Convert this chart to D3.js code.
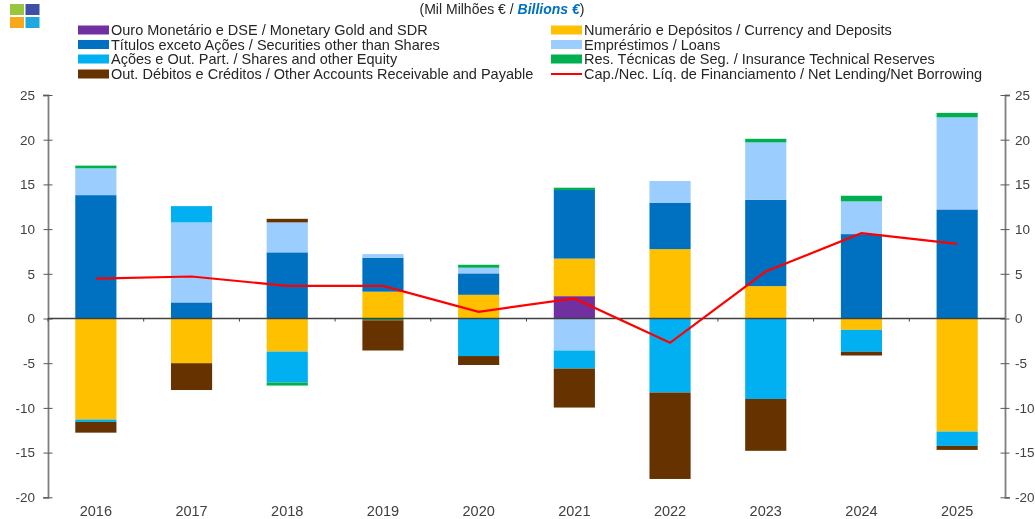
<!DOCTYPE html>
<meta charset="utf-8">
<style>
body { margin: 0; background: #fff; }
svg { display: block; font-family: "Liberation Sans", sans-serif; filter: blur(0.45px); }
.tick text { font-size: 13.5px; fill: #404040; }
.years text { font-size: 14.5px; fill: #404040; }
.legend text { font-size: 14.5px; fill: #262626; }
</style>
<svg width="1035" height="519"></svg>
<script src="https://d3js.org/d3.v7.min.js"></script>
<script>

var years = ["2016","2017","2018","2019","2020","2021","2022","2023","2024","2025"];

var yTicks = [25,20,15,10,5,0,-5,-10,-15,-20];

// stack order is the same as the excel series order
var seriesNames = [
  "Ouro Monetário e DSE / Monetary Gold and SDR",
  "Numerário e Depósitos / Currency and Deposits",
  "Títulos exceto Ações / Securities other than Shares",
  "Empréstimos / Loans",
  "Ações e Out. Part. / Shares and other Equity",
  "Res. Técnicas de Seg. / Insurance Technical Reserves",
  "Out. Débitos e Créditos / Other Accounts Receivable and Payable"
];
var lineName = "Cap./Nec. Líq. de Financiamento / Net Lending/Net Borrowing";

var colors = ["#7030a0","#ffc000","#0070c0","#9bcdff","#00b0f0","#00b050","#663300"];
var lineColor = "#ff0000";

var gold       = [0,0,0,0,0,2.5,0,0,0,0];
var currency   = [-11.3,-5,-3.7,3,2.65,4.2,7.76,3.62,-1.27,-12.65];
var securities = [13.8,1.8,7.4,3.8,2.4,7.67,5.2,9.66,9.44,12.2];
var loans      = [3,8.95,3.35,0.4,0.63,-3.58,2.42,6.42,3.66,10.3];
var shares     = [-0.27,1.82,-3.46,0,-4.2,-2.02,-8.28,-9,-2.46,-1.6];
var insurance  = [0.3,0,-0.34,-0.2,0.33,0.26,0,0.4,0.63,0.5];
var other      = [-1.2,-3,0.4,-3.38,-1,-4.36,-9.67,-5.8,-0.41,-0.45];
var netLending = [4.45,4.7,3.65,3.65,0.75,2.25,-2.72,5.25,9.55,8.35];

var allSeries = [gold,currency,securities,loans,shares,insurance,other];

var svg = d3.select("svg");

var x = d3.scaleBand().domain(years).range([48,1005]).paddingInner(0.57).paddingOuter(0.285);
var y = d3.scaleLinear().domain([-20,25]).range([497.3,95]);

// logo
var logo = [["#9bc53d",10,4],["#3f4fa3",25.5,4],["#f9a81a",10,17],["#1fa8e0",25.5,17]];
svg.append("g").selectAll("rect").data(logo).enter().append("rect")
    .attr("x", function(d) { return d[1]; })
    .attr("y", function(d) { return d[2]; })
    .attr("width", 14)
    .attr("height", 11)
    .attr("fill", function(d) { return d[0]; });

var sub = svg.append("text").attr("x", 502).attr("y", 14).attr("text-anchor","middle")
    .style("font-size","14px").style("fill","#262626");
sub.append("tspan").text("(Mil Milhões € / ");
sub.append("tspan").style("fill","#0070c0").style("font-weight","bold").style("font-style","italic").text("Billions €");
sub.append("tspan").text(")");

// bars, positive and negative stacks go separately
years.forEach(function(year, i) {
  var pos = 0, neg = 0;
  allSeries.forEach(function(s, k) {
    var v = s[i], y0;
    if (v == 0) return;
    if (v > 0) { y0 = pos; pos += v; }
    else { y0 = neg; neg += v; }
    svg.append("rect")
        .attr("x", x(year))
        .attr("width", x.bandwidth())
        .attr("y", y(Math.max(y0, y0 + v)))
        .attr("height", Math.abs(y(y0) - y(y0 + v)))
        .attr("fill", colors[k]);
  });
});

// axes, plain hyphen for the minus sign
var left = svg.append("g").attr("transform","translate(48,0)")
    .call(d3.axisLeft(y).tickValues(yTicks).tickSize(5).tickFormat(function(d) { return String(d); }));
var right = svg.append("g").attr("transform","translate(1005,0)")
    .call(d3.axisRight(y).tickValues(yTicks).tickSize(5).tickFormat(function(d) { return String(d); }));

[left, right].forEach(function(a) {
  a.selectAll(".domain").attr("stroke","#7f7f7f").attr("stroke-width",1.8);
  a.selectAll(".tick line").attr("stroke","#595959").attr("x1",-4.5).attr("x2",4.5);
});
left.selectAll(".tick text").attr("x",-13);
right.selectAll(".tick text").attr("x",10);

// zero line with ticks between the categories, labels at the bottom
svg.append("line").attr("x1",48).attr("x2",1005).attr("y1",y(0)).attr("y2",y(0))
    .attr("stroke","#404040").attr("stroke-width",1.5);

svg.append("g").selectAll("line").data(years).enter().append("line")
    .attr("x1", function(d) { return x(d) - x.step() * 0.285; })
    .attr("x2", function(d) { return x(d) - x.step() * 0.285; })
    .attr("y1", y(0))
    .attr("y2", y(0) + 3)
    .attr("stroke","#404040");

svg.append("g").attr("class","years").selectAll("text").data(years).enter().append("text")
    .attr("x", function(d) { return x(d) + x.bandwidth() / 2; })
    .attr("y", 516)
    .attr("text-anchor","middle")
    .text(function(d) { return d; });

// net lending line
var line = d3.line()
    .x(function(d, i) { return x(years[i]) + x.bandwidth() / 2; })
    .y(function(d) { return y(d); });

svg.append("path").datum(netLending)
    .attr("d", line)
    .attr("fill","none")
    .attr("stroke",lineColor)
    .attr("stroke-width",2.2);

// legend, two columns
var legendRows = [
  [0,78,30],[2,78,44.5],[4,78,59],[6,78,74],
  [1,551,30],[3,551,44.5],[5,551,59]
];
var legend = svg.append("g").attr("class","legend");
legendRows.forEach(function(r) {
  legend.append("rect").attr("x",r[1]).attr("y",r[2]-4.5).attr("width",31).attr("height",9).attr("fill",colors[r[0]]);
  legend.append("text").attr("x",r[1]+33).attr("y",r[2]+5).text(seriesNames[r[0]]);
});
legend.append("line").attr("x1",551).attr("x2",582).attr("y1",74).attr("y2",74).attr("stroke",lineColor).attr("stroke-width",2);
legend.append("text").attr("x",584).attr("y",79).text(lineName);

</script>
